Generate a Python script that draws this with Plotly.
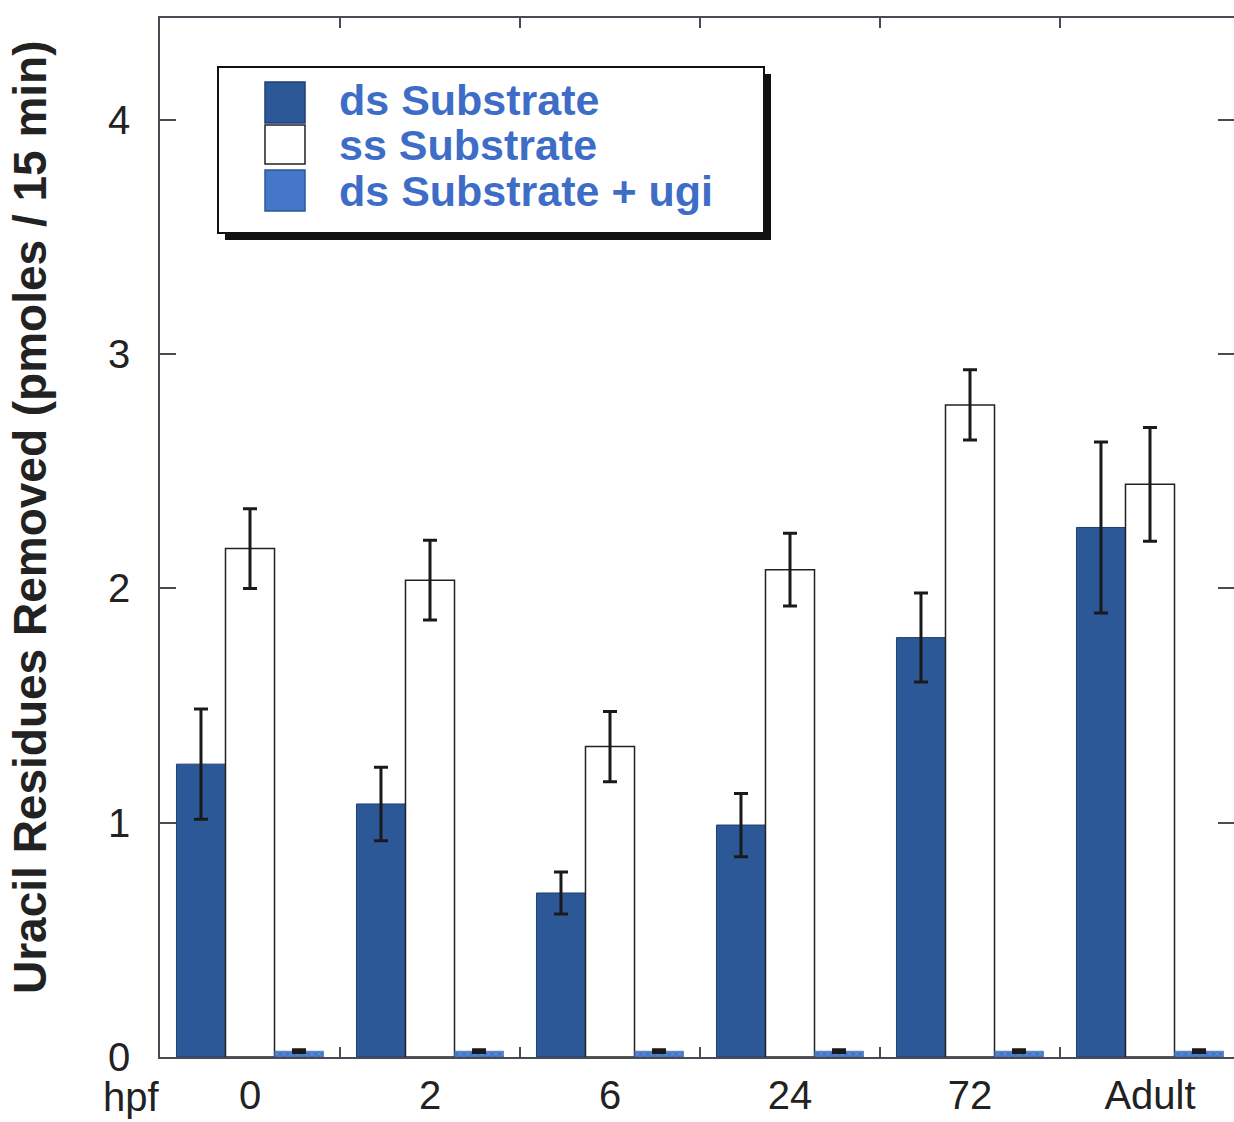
import plotly.graph_objects as go

# ---------------- data ----------------
categories = ["0", "2", "6", "24", "72", "Adult"]
series_names = ["ds Substrate", "ss Substrate", "ds Substrate + ugi"]
ds_values = [1.25, 1.08, 0.70, 0.99, 1.79, 2.26]
ds_errors = [0.235, 0.157, 0.09, 0.135, 0.19, 0.365]
ss_values = [2.17, 2.035, 1.325, 2.08, 2.783, 2.444]
ss_errors = [0.17, 0.17, 0.15, 0.155, 0.15, 0.243]
ugi_values = [0.025, 0.025, 0.025, 0.025, 0.025, 0.025]
ugi_errors = [0.006, 0.006, 0.006, 0.006, 0.006, 0.006]
y_ticks = [0, 1, 2, 3, 4]
y_title = "Uracil Residues Removed (pmoles / 15 min)"
x_prefix = "hpf"

# ---------------- layout constants ----------------
W, H = 1234, 1122
ML, MR, MT, MB = 160, 0, 18, 65
PW, PH = W - ML - MR, H - MT - MB

def px(x):
    return (x - ML) / PW

def py(y):
    return (H - MB - y) / PH

DS_COLOR = "#2c5898"
UGI_COLOR = "#4477c8"
TEXT_BLUE = "#3d6dc6"
FONT = "Liberation Sans, Arial, Helvetica, sans-serif"

err_style = dict(type="data", color="#1a1a1a", thickness=3, width=7)

fig = go.Figure()
fig.add_trace(go.Bar(
    x=categories, y=ds_values, name=series_names[0],
    marker=dict(color=DS_COLOR, line=dict(color="#1f3f70", width=1)),
    error_y=dict(array=ds_errors, **err_style),
))
fig.add_trace(go.Bar(
    x=categories, y=ss_values, name=series_names[1],
    marker=dict(color="white", line=dict(color="#222222", width=1.5)),
    error_y=dict(array=ss_errors, **err_style),
))
fig.add_trace(go.Bar(
    x=categories, y=ugi_values, name=series_names[2],
    marker=dict(color=UGI_COLOR, line=dict(color="#2c5898", width=0.5),
                pattern=dict(shape="x", fgcolor="#86aee6", size=5, solidity=0.3)),
    error_y=dict(array=ugi_errors, **err_style),
))

axis_common = dict(
    showline=True, linecolor="#4a4a55", linewidth=1.5,
    mirror="ticks", ticks="inside", tickcolor="#4a4a55", tickwidth=1.5,
    showgrid=False, zeroline=False,
    tickfont=dict(family=FONT, size=40, color="#222222"),
    automargin=False,
)

fig.update_layout(
    width=W, height=H,
    margin=dict(l=ML, r=MR, t=MT, b=MB),
    paper_bgcolor="white", plot_bgcolor="white",
    barmode="group", bargap=0.183, bargroupgap=0,
    showlegend=False,
    xaxis=dict(
        type="category", range=[-0.5, -0.5 + PW / 180.0],
        tickson="boundaries", ticklen=10, ticklabelstandoff=2,
        **axis_common,
    ),
    yaxis=dict(
        range=[0, PH / 234.3], tickvals=y_ticks, ticktext=[str(t) for t in y_ticks],
        ticklen=16, ticklabelstandoff=20,
        **axis_common,
    ),
)

shapes = []
annotations = []

# legend box with drop shadow
bx0, bx1, by0, by1 = 218, 764, 67, 233
sh = 7
shapes.append(dict(type="rect", xref="paper", yref="paper",
                   x0=px(bx0 + sh), x1=px(bx1 + sh), y0=py(by1 + sh), y1=py(by0 + sh),
                   fillcolor="#111111", line=dict(width=0), layer="above"))
shapes.append(dict(type="rect", xref="paper", yref="paper",
                   x0=px(bx0), x1=px(bx1), y0=py(by1), y1=py(by0),
                   fillcolor="white", line=dict(color="#111111", width=2), layer="above"))

swatch_rows = [(82, 123), (125, 164), (170, 211)]
text_rows = [100, 145, 191]
swatch_fill = [DS_COLOR, "white", UGI_COLOR]
swatch_line = ["#1f3f70", "#222222", "#2c5898"]
for name, (s0, s1), ty, fc, lc in zip(series_names, swatch_rows, text_rows, swatch_fill, swatch_line):
    shapes.append(dict(type="rect", xref="paper", yref="paper",
                       x0=px(265), x1=px(305), y0=py(s1), y1=py(s0),
                       fillcolor=fc, line=dict(color=lc, width=1.5), layer="above"))
    annotations.append(dict(xref="paper", yref="paper", x=px(337), y=py(ty),
                            xanchor="left", yanchor="middle", showarrow=False,
                            text=f"<b>{name}</b>",
                            font=dict(family=FONT, size=43, color=TEXT_BLUE)))

# y-axis title
annotations.append(dict(xref="paper", yref="paper", x=px(30), y=py(517),
                        xanchor="center", yanchor="middle", showarrow=False,
                        textangle=-90, text=f"<b>{y_title}</b>",
                        font=dict(family=FONT, size=46, color="#222222")))
# "hpf" prefix
annotations.append(dict(xref="paper", yref="paper", x=px(131), y=py(1097),
                        xanchor="center", yanchor="middle", showarrow=False,
                        text=x_prefix,
                        font=dict(family=FONT, size=40, color="#222222")))

fig.update_layout(shapes=shapes, annotations=annotations)
fig.write_html("out.html")
